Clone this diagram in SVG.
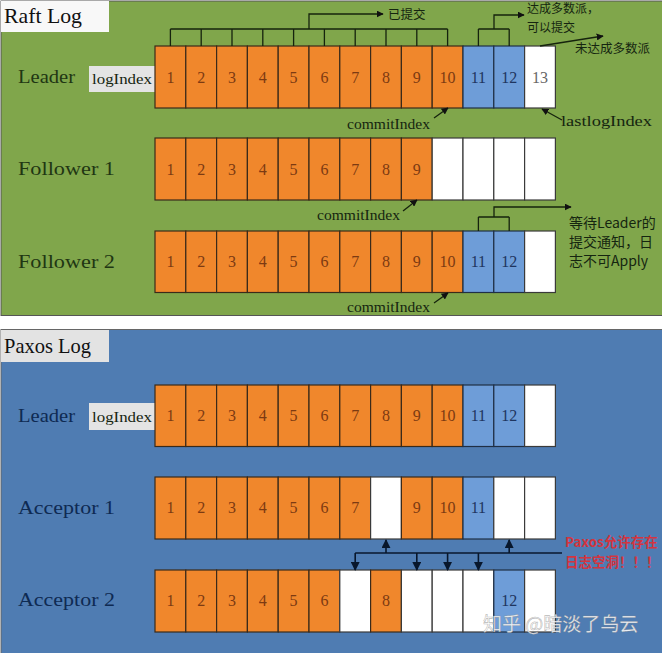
<svg xmlns="http://www.w3.org/2000/svg" width="662" height="653" viewBox="0 0 662 653">
<style>
.o{fill:#F0872C;stroke:#3a2a1a;stroke-width:1.2}
.b{fill:#6E9DD8;stroke:#1f2f45;stroke-width:1.2}
.w{fill:#FFFFFF;stroke:#3a3a3a;stroke-width:1.2}
.no{font-family:"Liberation Serif",serif;font-size:16px;fill:#7C3A12;text-anchor:middle}
.nb{font-family:"Liberation Serif",serif;font-size:16px;fill:#1E3560;text-anchor:middle}
.nw{font-family:"Liberation Serif",serif;font-size:16px;fill:#666;text-anchor:middle}
.lg{font-family:"Liberation Serif",serif;font-size:19px;fill:#1F3613}
.lb{font-family:"Liberation Serif",serif;font-size:19px;fill:#0E2A52}
.tt{font-family:"Liberation Serif",serif;font-size:21px;fill:#111}
.sm{font-family:"Liberation Serif",serif;font-size:15px;fill:#152510}
.cj{font-family:"Noto Sans CJK SC",sans-serif;font-size:12.5px;fill:#152510}
.cjs{font-family:"Noto Sans CJK SC",sans-serif;font-size:12px;fill:#152510}
.cj2{font-family:"Noto Sans CJK SC",sans-serif;font-size:14px;fill:#152510}
.red{font-family:"Noto Sans CJK SC",sans-serif;font-size:13.5px;font-weight:bold;fill:#D3343F}
.ln{fill:none;stroke:#15230d;stroke-width:1.3}
.lnb{fill:none;stroke:#08172c;stroke-width:1.6}
</style>
<defs>
<marker id="ah" viewBox="0 0 10 10" refX="9" refY="5" markerWidth="7" markerHeight="7" orient="auto" markerUnits="userSpaceOnUse">
<path d="M0,0 L10,5 L0,10 z" fill="#111"/>
</marker>
<marker id="ah2" viewBox="0 0 10 10" refX="9" refY="5" markerWidth="9" markerHeight="9" orient="auto" markerUnits="userSpaceOnUse">
<path d="M0,0 L10,5 L0,10 z" fill="#08172c"/>
</marker>
</defs>
<rect x="0" y="0" width="662" height="653" fill="#fff"/>

<g id="raft-panel">
<rect x="1" y="1" width="665" height="314.5" fill="#80A64B" stroke="#555" stroke-width="1"/>
<rect x="1" y="1" width="108" height="31" fill="#F8F8F8"/>
<text class="tt" x="4" y="23" textLength="78" lengthAdjust="spacingAndGlyphs">Raft Log</text>
</g>

<g id="paxos-panel">
<rect x="1" y="329.5" width="665" height="330" fill="#4F7CB2" stroke="#666" stroke-width="1"/>
<rect x="1" y="330" width="108" height="32" fill="#E3E3E3"/>
<text class="tt" x="4" y="353" textLength="87" lengthAdjust="spacingAndGlyphs">Paxos Log</text>
</g>

<g id="raft-labels">
<text class="lg" x="18" y="83" textLength="57" lengthAdjust="spacingAndGlyphs">Leader</text>
<text class="lg" x="18" y="175" textLength="97" lengthAdjust="spacingAndGlyphs">Follower 1</text>
<text class="lg" x="18" y="268" textLength="97" lengthAdjust="spacingAndGlyphs">Follower 2</text>
<rect x="89" y="66" width="66" height="26" fill="#E4E4E4"/>
<text class="sm" x="92" y="84" textLength="60" lengthAdjust="spacingAndGlyphs">logIndex</text>
</g>

<g id="raft-leader">
<rect class="o" x="155" y="46" width="30.8" height="62"/><text class="no" x="170.4" y="83">1</text>
<rect class="o" x="185.8" y="46" width="30.8" height="62"/><text class="no" x="201.2" y="83">2</text>
<rect class="o" x="216.6" y="46" width="30.8" height="62"/><text class="no" x="232" y="83">3</text>
<rect class="o" x="247.4" y="46" width="30.8" height="62"/><text class="no" x="262.8" y="83">4</text>
<rect class="o" x="278.2" y="46" width="30.8" height="62"/><text class="no" x="293.6" y="83">5</text>
<rect class="o" x="309" y="46" width="30.8" height="62"/><text class="no" x="324.4" y="83">6</text>
<rect class="o" x="339.8" y="46" width="30.8" height="62"/><text class="no" x="355.2" y="83">7</text>
<rect class="o" x="370.6" y="46" width="30.8" height="62"/><text class="no" x="386" y="83">8</text>
<rect class="o" x="401.4" y="46" width="30.8" height="62"/><text class="no" x="416.8" y="83">9</text>
<rect class="o" x="432.2" y="46" width="30.8" height="62"/><text class="no" x="447.6" y="83">10</text>
<rect class="b" x="463" y="46" width="30.8" height="62"/><text class="nb" x="478.4" y="83">11</text>
<rect class="b" x="493.8" y="46" width="30.8" height="62"/><text class="nb" x="509.2" y="83">12</text>
<rect class="w" x="524.6" y="46" width="30.8" height="62"/><text class="nw" x="540" y="83">13</text>
</g>

<g id="raft-follower1">
<rect class="o" x="155" y="138" width="30.8" height="62"/><text class="no" x="170.4" y="175">1</text>
<rect class="o" x="185.8" y="138" width="30.8" height="62"/><text class="no" x="201.2" y="175">2</text>
<rect class="o" x="216.6" y="138" width="30.8" height="62"/><text class="no" x="232" y="175">3</text>
<rect class="o" x="247.4" y="138" width="30.8" height="62"/><text class="no" x="262.8" y="175">4</text>
<rect class="o" x="278.2" y="138" width="30.8" height="62"/><text class="no" x="293.6" y="175">5</text>
<rect class="o" x="309" y="138" width="30.8" height="62"/><text class="no" x="324.4" y="175">6</text>
<rect class="o" x="339.8" y="138" width="30.8" height="62"/><text class="no" x="355.2" y="175">7</text>
<rect class="o" x="370.6" y="138" width="30.8" height="62"/><text class="no" x="386" y="175">8</text>
<rect class="o" x="401.4" y="138" width="30.8" height="62"/><text class="no" x="416.8" y="175">9</text>
<rect class="w" x="432.2" y="138" width="30.8" height="62"/>
<rect class="w" x="463" y="138" width="30.8" height="62"/>
<rect class="w" x="493.8" y="138" width="30.8" height="62"/>
<rect class="w" x="524.6" y="138" width="30.8" height="62"/>
</g>

<g id="raft-follower2">
<rect class="o" x="155" y="231" width="30.8" height="61.5"/><text class="no" x="170.4" y="267">1</text>
<rect class="o" x="185.8" y="231" width="30.8" height="61.5"/><text class="no" x="201.2" y="267">2</text>
<rect class="o" x="216.6" y="231" width="30.8" height="61.5"/><text class="no" x="232" y="267">3</text>
<rect class="o" x="247.4" y="231" width="30.8" height="61.5"/><text class="no" x="262.8" y="267">4</text>
<rect class="o" x="278.2" y="231" width="30.8" height="61.5"/><text class="no" x="293.6" y="267">5</text>
<rect class="o" x="309" y="231" width="30.8" height="61.5"/><text class="no" x="324.4" y="267">6</text>
<rect class="o" x="339.8" y="231" width="30.8" height="61.5"/><text class="no" x="355.2" y="267">7</text>
<rect class="o" x="370.6" y="231" width="30.8" height="61.5"/><text class="no" x="386" y="267">8</text>
<rect class="o" x="401.4" y="231" width="30.8" height="61.5"/><text class="no" x="416.8" y="267">9</text>
<rect class="o" x="432.2" y="231" width="30.8" height="61.5"/><text class="no" x="447.6" y="267">10</text>
<rect class="b" x="463" y="231" width="30.8" height="61.5"/><text class="nb" x="478.4" y="267">11</text>
<rect class="b" x="493.8" y="231" width="30.8" height="61.5"/><text class="nb" x="509.2" y="267">12</text>
<rect class="w" x="524.6" y="231" width="30.8" height="61.5"/>
</g>

<g id="raft-notes">
<text class="cj" x="388" y="19">已提交</text>
<text class="cjs"><tspan x="527" y="13">达成多数派，</tspan><tspan x="527" y="31.5">可以提交</tspan></text>
<text class="cj" x="575" y="53">未达成多数派</text>
<text class="sm" x="561" y="126" textLength="91" lengthAdjust="spacingAndGlyphs">lastlogIndex</text>
<text class="sm" x="347" y="129" textLength="83" lengthAdjust="spacingAndGlyphs">commitIndex</text>
<text class="sm" x="317" y="220" textLength="83" lengthAdjust="spacingAndGlyphs">commitIndex</text>
<text class="sm" x="347" y="312" textLength="83" lengthAdjust="spacingAndGlyphs">commitIndex</text>
<text class="cj2"><tspan x="569" y="228">等待Leader的</tspan><tspan x="569" y="247">提交通知，日</tspan><tspan x="569" y="266">志不可Apply</tspan></text>
</g>

<g id="paxos-labels">
<text class="lb" x="18" y="422" textLength="57" lengthAdjust="spacingAndGlyphs">Leader</text>
<text class="lb" x="18" y="514" textLength="97" lengthAdjust="spacingAndGlyphs">Acceptor 1</text>
<text class="lb" x="18" y="606" textLength="97" lengthAdjust="spacingAndGlyphs">Acceptor 2</text>
<rect x="89" y="403" width="66" height="27" fill="#E4E4E4"/>
<text class="sm" x="92" y="422" textLength="60" lengthAdjust="spacingAndGlyphs">logIndex</text>
</g>

<g id="paxos-leader">
<rect class="o" x="155" y="385" width="30.8" height="61.5"/><text class="no" x="170.4" y="421">1</text>
<rect class="o" x="185.8" y="385" width="30.8" height="61.5"/><text class="no" x="201.2" y="421">2</text>
<rect class="o" x="216.6" y="385" width="30.8" height="61.5"/><text class="no" x="232" y="421">3</text>
<rect class="o" x="247.4" y="385" width="30.8" height="61.5"/><text class="no" x="262.8" y="421">4</text>
<rect class="o" x="278.2" y="385" width="30.8" height="61.5"/><text class="no" x="293.6" y="421">5</text>
<rect class="o" x="309" y="385" width="30.8" height="61.5"/><text class="no" x="324.4" y="421">6</text>
<rect class="o" x="339.8" y="385" width="30.8" height="61.5"/><text class="no" x="355.2" y="421">7</text>
<rect class="o" x="370.6" y="385" width="30.8" height="61.5"/><text class="no" x="386" y="421">8</text>
<rect class="o" x="401.4" y="385" width="30.8" height="61.5"/><text class="no" x="416.8" y="421">9</text>
<rect class="o" x="432.2" y="385" width="30.8" height="61.5"/><text class="no" x="447.6" y="421">10</text>
<rect class="b" x="463" y="385" width="30.8" height="61.5"/><text class="nb" x="478.4" y="421">11</text>
<rect class="b" x="493.8" y="385" width="30.8" height="61.5"/><text class="nb" x="509.2" y="421">12</text>
<rect class="w" x="524.6" y="385" width="30.8" height="61.5"/>
</g>

<g id="paxos-acceptor1">
<rect class="o" x="155" y="477" width="30.8" height="62"/><text class="no" x="170.4" y="513">1</text>
<rect class="o" x="185.8" y="477" width="30.8" height="62"/><text class="no" x="201.2" y="513">2</text>
<rect class="o" x="216.6" y="477" width="30.8" height="62"/><text class="no" x="232" y="513">3</text>
<rect class="o" x="247.4" y="477" width="30.8" height="62"/><text class="no" x="262.8" y="513">4</text>
<rect class="o" x="278.2" y="477" width="30.8" height="62"/><text class="no" x="293.6" y="513">5</text>
<rect class="o" x="309" y="477" width="30.8" height="62"/><text class="no" x="324.4" y="513">6</text>
<rect class="o" x="339.8" y="477" width="30.8" height="62"/><text class="no" x="355.2" y="513">7</text>
<rect class="w" x="370.6" y="477" width="30.8" height="62"/>
<rect class="o" x="401.4" y="477" width="30.8" height="62"/><text class="no" x="416.8" y="513">9</text>
<rect class="o" x="432.2" y="477" width="30.8" height="62"/><text class="no" x="447.6" y="513">10</text>
<rect class="b" x="463" y="477" width="30.8" height="62"/><text class="nb" x="478.4" y="513">11</text>
<rect class="w" x="493.8" y="477" width="30.8" height="62"/>
<rect class="w" x="524.6" y="477" width="30.8" height="62"/>
</g>

<g id="paxos-acceptor2">
<rect class="o" x="155" y="570" width="30.8" height="62"/><text class="no" x="170.4" y="606">1</text>
<rect class="o" x="185.8" y="570" width="30.8" height="62"/><text class="no" x="201.2" y="606">2</text>
<rect class="o" x="216.6" y="570" width="30.8" height="62"/><text class="no" x="232" y="606">3</text>
<rect class="o" x="247.4" y="570" width="30.8" height="62"/><text class="no" x="262.8" y="606">4</text>
<rect class="o" x="278.2" y="570" width="30.8" height="62"/><text class="no" x="293.6" y="606">5</text>
<rect class="o" x="309" y="570" width="30.8" height="62"/><text class="no" x="324.4" y="606">6</text>
<rect class="w" x="339.8" y="570" width="30.8" height="62"/>
<rect class="o" x="370.6" y="570" width="30.8" height="62"/><text class="no" x="386" y="606">8</text>
<rect class="w" x="401.4" y="570" width="30.8" height="62"/>
<rect class="w" x="432.2" y="570" width="30.8" height="62"/>
<rect class="w" x="463" y="570" width="30.8" height="62"/>
<rect class="b" x="493.8" y="570" width="30.8" height="62"/><text class="nb" x="509.2" y="606">12</text>
<rect class="w" x="524.6" y="570" width="30.8" height="62"/>
</g>

<g id="paxos-notes">
<text class="red"><tspan x="565" y="547">Paxos允许存在</tspan><tspan x="565" y="567">日志空洞！！！</tspan></text>
</g>

<g id="connectors">
<path class="ln" d="M170.4,46V29M201.2,46V29M232,46V29M262.8,46V29M293.6,46V29M324.4,46V29M355.2,46V29M386,46V29M416.8,46V29M447.6,46V29M170.4,29H447.6"/>
<path class="ln" d="M309,29V14H383" marker-end="url(#ah)"/>
<path class="ln" d="M478.4,46V29M509.2,46V29M478.4,29H509.2"/>
<path class="ln" d="M494,29V15H524" marker-end="url(#ah)"/>
<path class="ln" d="M540,46L603,36" marker-end="url(#ah)"/>
<path class="ln" d="M562,120L542,109" marker-end="url(#ah)"/>
<path class="ln" d="M434,118L448,108" marker-end="url(#ah)"/>
<path class="ln" d="M403,211L417,200" marker-end="url(#ah)"/>
<path class="ln" d="M434,303L448,293" marker-end="url(#ah)"/>
<path class="ln" d="M478.4,231V217M509.2,231V217M478.4,217H509.2"/>
<path class="ln" d="M494,217V207H571" marker-end="url(#ah)"/>
<path class="lnb" d="M355.2,553H562"/>
<path class="lnb" d="M386,553V540" marker-end="url(#ah2)"/>
<path class="lnb" d="M509.2,553V540" marker-end="url(#ah2)"/>
<path class="lnb" d="M355.2,553V570" marker-end="url(#ah2)"/>
<path class="lnb" d="M416.8,553V570" marker-end="url(#ah2)"/>
<path class="lnb" d="M447.6,553V570" marker-end="url(#ah2)"/>
<path class="lnb" d="M478.4,553V570" marker-end="url(#ah2)"/>
</g>

<g id="watermark">
<text x="483" y="631" font-family="'Noto Sans CJK SC',sans-serif" font-size="19" fill="#ffffff" fill-opacity="0.9" stroke="#8a8a8a" stroke-width="0.6" stroke-opacity="0.6">知乎 @暗淡了乌云</text>
</g>
</svg>
